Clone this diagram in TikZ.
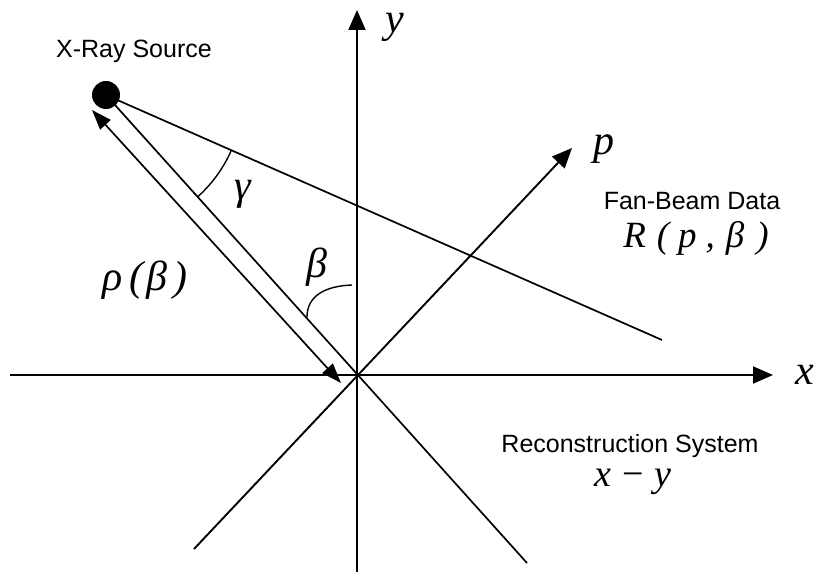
\documentclass[tikz,border=0pt]{standalone}
\usepackage{fontspec}
\setmainfont{Liberation Sans}
\newfontfamily\mathserif{Liberation Serif}
\usetikzlibrary{arrows.meta}
\begin{document}
\begin{tikzpicture}[x=1pt,y=-1pt,
  axis/.style={line width=1.9pt, -{Triangle[length=20pt,width=17pt]}},
  ln/.style={line width=1.7pt},
  dbl/.style={line width=1.7pt, {Triangle[length=20pt,width=14pt]}-{Triangle[length=20pt,width=14pt]}},
  lbl/.style={font=\fontsize{25}{28}\selectfont, inner sep=0pt},
  mth/.style={font=\mathserif\itshape\fontsize{42}{46}\selectfont, inner sep=0pt},
]
\useasboundingbox (0,0) rectangle (822,577);
\coordinate (O) at (357,375);
\coordinate (yB) at (357,572);
\coordinate (yT) at (357,10);
\coordinate (xL) at (10,375);
\coordinate (xR) at (773,375);
\coordinate (pL) at (194,549);
\coordinate (pT) at (572,148);
\coordinate (S) at (106,95);
\coordinate (qE) at (527,563);
\coordinate (fE) at (662,340);
\coordinate (rA) at (92,110);
\coordinate (rB) at (341,383);
\coordinate (g1) at (197.5,197);
\coordinate (b1) at (307,317);
\coordinate (b2) at (352,285);

\draw[axis] (xL) -- (xR);
\draw[axis] (yB) -- (yT);
\draw[axis] (pL) -- (pT);
\draw[ln] (S) -- (qE);
\draw[ln] (S) -- (fE);
\draw[dbl] (rA) -- (rB);
\node[circle, fill=black, minimum size=28pt, inner sep=0pt] (src) at (S) {};

\draw[line width=1.4pt] (g1) arc[start angle=48.1, end angle=23.9, radius=137];
\draw[line width=1.4pt] (b1) .. controls (307,296) and (325,286) .. (b2);

\node[lbl] (srcl) at (134,51) {X-Ray Source};
\node[lbl] (fbd) at (692,201) {Fan-Beam Data};
\node[mth, font=\mathserif\itshape\fontsize{37}{42}\selectfont] (rpb) at (696,238) {R\hspace{11pt}(\hspace{9pt}p\hspace{9pt},\hspace{11pt}β\hspace{12pt})};
\node[lbl] (rs) at (630,446) {Reconstruction System};
\node[mth, font=\mathserif\itshape\fontsize{38}{42}\selectfont] (xy) at (633,482) {x\hspace{11pt}{\upshape −}\hspace{11pt}y};
\node[mth] (xl) at (805,375) {x};
\node[mth] (yl) at (395,27) {y};
\node[mth] (pl) at (604,149) {p};
\node[mth] (gl) at (243,194) {γ};
\node[mth] (bl) at (317,267) {β};
\node[mth] (rho) at (145,280) {ρ\hspace{6pt}(\hspace{3pt}β\hspace{6pt})};
\end{tikzpicture}
\end{document}
